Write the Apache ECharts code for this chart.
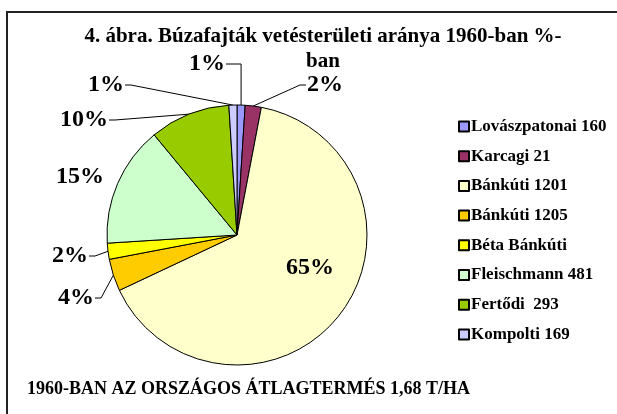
<!DOCTYPE html>
<html>
<head>
<meta charset="utf-8">
<script src="https://cdn.jsdelivr.net/npm/echarts@6/dist/echarts.min.js"></script>
<style>
  html, body { margin: 0; padding: 0; background: #fff; }
  #chart { width: 617px; height: 414px; }
</style>
</head>
<body>
<div id="chart"></div>
<script>
// fajták (legend names) és arányuk %-ban
var fajtak = ['Lovászpatonai 160', 'Karcagi 21', 'Bánkúti 1201', 'Bánkúti 1205',
  'Béta Bánkúti', 'Fleischmann 481', 'Fertődi  293', 'Kompolti 169'];
var aranyok = [1, 2, 65, 4, 2, 15, 10, 1];
var szinek = ['#9999FF', '#993366', '#FFFFCC', '#FFCC00', '#FFFF00', '#CCFFCC', '#99CC00', '#CCCCFF'];

// hova kerüljenek a % feliratok (mint az eredeti ábrán)
var cimkeHely = [[207, 64], [325, 85], [310, 268], [76, 298], [70, 256], [80, 177], [84, 120], [106, 85]];

var serif = 'Liberation Serif';
var kozep = [237, 235], sugar = 130;
var chart = echarts.init(document.getElementById('chart'));

var osszes = aranyok.reduce(function (a, b) { return a + b; }, 0);
var eddig = [];
aranyok.reduce(function (a, b, i) { eddig[i] = a; return a + b; }, 0);

var adatok = fajtak.map(function (n, i) {
  var d = { name: n, value: aranyok[i], itemStyle: { color: szinek[i] } };
  if (i === 2) d.label = { position: 'inside' };
  if (i === 5) d.labelLine = { show: false };
  return d;
});

chart.setOption({
  backgroundColor: '#fff',
  animation: false,
  title: [{
    text: '4. ábra. Búzafajták vetésterületi aránya 1960-ban %-\nban',
    left: 318, top: 19, textAlign: 'center',
    textStyle: { fontFamily: serif, fontWeight: 'bold', fontSize: 21, lineHeight: 25, color: '#000' }
  }, {
    text: '1960-BAN AZ ORSZÁGOS ÁTLAGTERMÉS 1,68 T/HA',
    left: 22, top: 375,
    textStyle: { fontFamily: serif, fontWeight: 'bold', fontSize: 18, color: '#000' }
  }],
  legend: {
    orient: 'vertical',
    left: 453, top: 113,
    itemWidth: 10, itemHeight: 10, itemGap: 12.7,
    icon: 'rect',
    data: fajtak,
    textStyle: { fontFamily: serif, fontWeight: 'bold', fontSize: 17, color: '#000', padding: [0, 0, 0, -3] }
  },
  graphic: [{
    type: 'polyline', silent: true,
    shape: { points: [[7, 420], [7, 12], [625, 12]] },
    style: { stroke: '#222', lineWidth: 2, fill: null }
  }],
  series: [{
    type: 'pie',
    center: kozep,
    radius: sugar,
    startAngle: 90,
    clockwise: true,
    avoidLabelOverlap: false,
    itemStyle: { borderColor: '#000', borderWidth: 1 },
    label: {
      formatter: '{c}%',
      fontFamily: serif, fontWeight: 'bold', fontSize: 24, color: '#000'
    },
    labelLine: { length: 14, length2: 8, lineStyle: { color: '#000', width: 1 } },
    labelLayout: function (p) {
      var i = p.dataIndex;
      var h = cimkeHely[i];
      var out = { x: h[0], y: h[1], align: 'center', verticalAlign: 'middle' };
      if (i === 2 || i === 5) return out;
      var a = (eddig[i] + aranyok[i] / 2) / osszes * Math.PI * 2;
      var el = [kozep[0] + sugar * Math.sin(a), kozep[1] - sugar * Math.cos(a)];
      var w = p.labelRect.width / 2;
      var veg, tores;
      if (h[0] < el[0]) {
        veg = [h[0] + w + 1, h[1]];
        tores = [veg[0] + 6, h[1]];
      } else {
        veg = [h[0] - w - 1, h[1]];
        tores = [veg[0] - 6, h[1]];
      }
      if (i === 0) tores = [el[0], h[1]];
      out.labelLinePoints = [el, tores, veg];
      return out;
    },
    emphasis: { disabled: true },
    data: adatok
  }]
});
</script>
</body>
</html>
